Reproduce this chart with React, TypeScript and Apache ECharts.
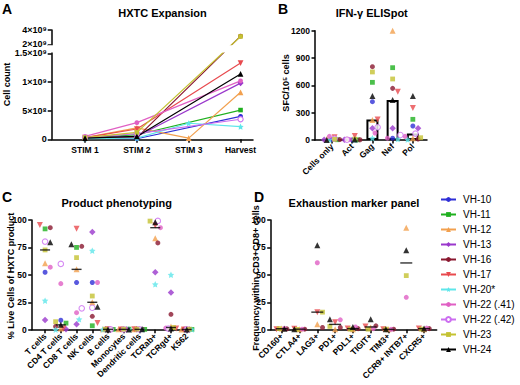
import React, { useEffect, useRef } from 'react';
import * as echarts from 'echarts';

const FONT = '"Liberation Sans", Arial, sans-serif';

// ---------- donors ----------
const donors = ['VH-10', 'VH-11', 'VH-12', 'VH-13', 'VH-16', 'VH-17', 'VH-20*', 'VH-22 (.41)', 'VH-22 (.42)', 'VH-23', 'VH-24'];
const donorColors = ['#2f2fd6', '#1fb01f', '#f2a04e', '#9a38cc', '#8a1830', '#e84a4e', '#5ee6ea', '#e060c4', '#cc6ef0', '#c4c232', '#000000'];
const donorSymbols = ['circle', 'rect', 'triangle', 'diamond', 'circle', 'triangle', 'star', 'circle', 'open', 'rect', 'triangle'];
const donorRotate = [0, 0, 0, 0, 0, 180, 0, 0, 0, 0, 0];

// ---------- A: HXTC expansion (cell count, x10^9) ----------
const stimLabels = ['STIM 1', 'STIM 2', 'STIM 3', 'Harvest'];
const expStim1 = [0.02, 0.02, 0.03, 0.02, 0.02, 0.03, 0.01, 0.05, 0.03, 0.03, 0.02];
const expStim2 = [0.01, 0.08, 0.2, 0.05, 0.03, 0.18, 0.02, 0.29, 0.1, 0.12, 0.05];
const expStim3 = [null, null, 0.02, null, null, null, 0.28, null, null, null, null];
const expHarvest = [0.4, 0.51, 0.82, 0.98, 3.15, 1.33, 0.22, 1.02, 0.35, 3.1, 1.14];
const expTicks = [0, 0.5, 1, 1.5, 2, 4];
const expTickLabels = ['0', '5×10⁸', '1×10⁹', '1.5×10⁹', '2×10⁹', '4×10⁹'];

// ---------- B: IFN-g ELISpot (SFC/10^5 cells) ----------
const ifnCats = ['Cells only', 'Act', 'Gag', 'Nef', 'Pol'];
const ifnCellsOnly = [5, 3, 10, 2, 5, 30, 2, 40, 15, 8, 0];
const ifnAct = [2, 2, 12, 2, 3, 45, 1, 5, 3, 10, 5];
const ifnGag = [421, 633, 220, 130, 805, 225, 20, 77, 140, 747, 483];
const ifnNef = [20, 794, 1200, 130, 567, 530, 10, 20, 55, 670, 439];
const ifnPol = [154, 227, 20, 130, 10, 351, 5, 40, 70, 25, 483];

// ---------- C: product phenotyping (%) ----------
const pheCats = ['T cells', 'CD4 T cells', 'CD8 T cells', 'NK cells', 'B cells', 'Monocytes', 'Dendritic cells', 'TCRab+', 'TCRgd+', 'K562'];
const pheT = [52.4, 91.9, 60.6, 8.8, 93, 95.5, 26.5, 57, 80.3, 72.7, 79.7];
const pheCD4 = [8.6, 6, 1, 0.5, 3, 1, 0, 42, 60, 7.3, 4.4];
const pheCD8 = [43, 75, 55, 5, 76, 92, 9.5, 15.5, 19.5, 65.7, 78];
const pheNK = [43, 3.6, 25, 89, 12.2, 6, 72, 43, 20, 30.7, 21];
const pheB = [0.5, 0.3, 0.5, 0.3, 0.2, 0.3, 0.2, 0.5, 0.3, 0.5, 0.2];
const pheMono = [0.3, 0.5, 0.3, 0.2, 0.5, 0.2, 0.3, 0.3, 0.2, 0.5, 0.2];
const pheDC = [0.2, 0.3, 0.5, 0.3, 0.4, 0.3, 0.2, 0.5, 0.3, 0.5, 0.3];
const pheTCRab = [null, null, 83.4, 52.4, 79.1, 95, 41.4, 93, 99.2, 99, 98];
const pheTCRgd = [null, null, 3, 33.8, 14, 1, 50, 1.5, 1, 2, 1];
const pheK562 = [0.2, 0.3, 0.2, 0.2, 0.5, 0.2, 0.2, 0.5, 0.3, 0.5, 0.2];

// ---------- D: exhaustion markers (%) ----------
const exhCats = ['CD160+', 'CTLA4+', 'LAG3+', 'PD1+', 'PDL1+', 'TIGIT+', 'TIM3+', 'CCR9+ INTB7+', 'CXCR5+'];
const exhCD160 = [null, null, 1, null, 0.8, 0.5, null, 1.2, null, 1, 0.8];
const exhCTLA4 = [null, null, 0.5, null, 0.5, 0.8, null, 0.5, null, 0.3, 0.5];
const exhLAG3 = [null, null, 5, null, 2, 16, null, 61, null, 16, 77];
const exhPD1 = [null, null, 0.5, null, 2, 6.7, null, 9, null, 3, 9.5];
const exhPDL1 = [null, null, 0.5, null, 1, 1, null, 2.5, null, 0.5, 2.5];
const exhTIGIT = [null, null, 2, null, 3.5, 3, null, 1, null, 0.5, 9.5];
const exhTIM3 = [null, null, 0.3, null, 0.5, 0.3, null, 0.3, null, 0.5, 0.3];
const exhCCR9 = [null, null, 93, null, null, null, null, 29.5, null, 49.3, 72.4];
const exhCXCR5 = [null, null, 0.5, null, 1, 1, null, 1.5, null, 0.5, 1];

// ---------- helpers ----------
const STAR = 'path://M0,-1L0.29,-0.4L0.95,-0.31L0.47,0.15L0.59,0.81L0,0.5L-0.59,0.81L-0.47,0.15L-0.95,-0.31L-0.29,-0.4Z';

// broken axis scale for panel A (display units = pixels of the grid)
const LOW_PX = 86;
const GAP_PX = 9;
const HIGH_PX = 14.3;
const brk = (v: number) =>
  v <= 1.5 ? (v / 1.5) * LOW_PX : v >= 2 ? LOW_PX + GAP_PX + ((v - 2) / 2) * HIGH_PX : LOW_PX + ((v - 1.5) / 0.5) * GAP_PX;

const median = (arr: (number | null)[]) => {
  const s = arr.filter((v) => v != null).map((v) => v as number).sort((a, b) => a - b);
  if (!s.length) return 0;
  const m = Math.floor(s.length / 2);
  return s.length % 2 ? s[m] : (s[m - 1] + s[m]) / 2;
};

function swarm(values: (number | null)[], pxY: number, pxX: number, size: number, maxOff: number) {
  const placed: [number, number][] = [];
  const offs = values.map(() => 0);
  const step = size * 0.5;
  const cands = [0];
  for (let s = step; s <= maxOff + 1e-6; s += step) cands.push(s, -s);
  values.forEach((v, i) => {
    if (v == null) return;
    const y = v * pxY;
    let best = 0;
    let bestD = -1;
    for (const c of cands) {
      let d = Infinity;
      for (const [px, py] of placed) d = Math.min(d, Math.hypot(px - c, py - y));
      if (d >= size) {
        best = c;
        break;
      }
      if (d > bestD) {
        bestD = d;
        best = c;
      }
    }
    placed.push([best, y]);
    offs[i] = best / pxX;
  });
  return offs;
}

const symFor = (i: number) => (donorSymbols[i] === 'star' ? STAR : donorSymbols[i] === 'open' ? 'circle' : donorSymbols[i]);
const sizeFor = (i: number) =>
  (({ circle: 5, rect: 4.8, triangle: 6, diamond: 6.5, star: 6.5, open: 5.5 } as any)[donorSymbols[i]]);
const itemFor = (i: number) =>
  donorSymbols[i] === 'open'
    ? { color: '#ffffff', borderColor: donorColors[i], borderWidth: 1.1 }
    : { color: donorColors[i] };

const axisLineStyle = { show: true, onZero: false, lineStyle: { color: '#000', width: 1.5 } };
const tickStyle = (len: number) => ({ show: true, length: len, lineStyle: { color: '#000', width: 1.5 } });
const labelStyle = { color: '#000', fontSize: 8.5, fontWeight: 'bold', fontFamily: FONT };

function catXAxis(gridIndex: number, cats: string[], min: number, max: number, rotate: number, margin: number) {
  const idx = cats.map((_, k) => k);
  return {
    type: 'value',
    gridIndex,
    min,
    max,
    axisLine: axisLineStyle,
    axisTick: { ...tickStyle(3.5), customValues: idx },
    axisLabel: {
      ...labelStyle,
      rotate,
      margin,
      customValues: idx,
      formatter: (v: number) => cats[Math.round(v)] ?? '',
    },
    splitLine: { show: false },
  };
}

function valYAxis(gridIndex: number, min: number, max: number, interval: number) {
  return {
    type: 'value',
    gridIndex,
    min,
    max,
    interval,
    axisLine: axisLineStyle,
    axisTick: tickStyle(3.5),
    axisLabel: { ...labelStyle, margin: 5, formatter: (v: number) => String(v) },
    splitLine: { show: false },
  };
}

function scatterPanel(arrays: (number | null)[][], gi: number, pxY: number, pxX: number, maxOff: number) {
  const offsets = arrays.map((arr) => swarm(arr, pxY, pxX, 5.2, maxOff));
  return donors.map((name, i) => ({
    type: 'scatter',
    name,
    xAxisIndex: gi,
    yAxisIndex: gi,
    data: arrays
      .map((arr, k) => (arr[i] == null ? null : [k + offsets[k][i], arr[i]]))
      .filter((d) => d != null),
    symbol: symFor(i),
    symbolSize: sizeFor(i),
    symbolRotate: donorRotate[i],
    itemStyle: itemFor(i),
    clip: false,
    z: 3,
  }));
}

function medianSeries(arrays: (number | null)[][], gi: number, width: number) {
  return {
    type: 'scatter',
    name: 'median',
    xAxisIndex: gi,
    yAxisIndex: gi,
    data: arrays.map((arr, k) => [k, median(arr)]),
    symbol: 'rect',
    symbolSize: [width, 1.4],
    itemStyle: { color: '#000' },
    clip: false,
    silent: true,
    z: 5,
  };
}

function txt(text: string, x: number, y: number, size: number, opts: any = {}) {
  return {
    type: 'text',
    x,
    y,
    rotation: opts.rotation || 0,
    z: 100,
    style: {
      text,
      x: 0,
      y: 0,
      fill: '#000',
      font: `bold ${size}px ${FONT}`,
      textAlign: opts.align || 'center',
      align: opts.align || 'center',
      textVerticalAlign: opts.valign || 'middle',
      verticalAlign: opts.valign || 'middle',
    },
  };
}

export default function App() {
  const ref = useRef<HTMLDivElement>(null);

  useEffect(() => {
    document.body.style.margin = '0';
    const chart = echarts.init(ref.current as HTMLDivElement, null, { renderer: 'svg' });

    // grid geometry (px)
    const gA = { left: 51.7, top: 30, width: 201.3, height: brk(4) };
    const gB = { left: 315, top: 30.7, width: 112, height: 109.3 };
    const gC = { left: 31.7, top: 220, width: 161.3, height: 109.7 };
    const gD = { left: 270.7, top: 220, width: 166, height: 109.7 };

    const stages = [expStim1, expStim2, expStim3, expHarvest];
    const ifnArrays = [ifnCellsOnly, ifnAct, ifnGag, ifnNef, ifnPol];
    const pheArrays = [pheT, pheCD4, pheCD8, pheNK, pheB, pheMono, pheDC, pheTCRab, pheTCRgd, pheK562];
    const exhArrays = [exhCD160, exhCTLA4, exhLAG3, exhPD1, exhPDL1, exhTIGIT, exhTIM3, exhCCR9, exhCXCR5];

    const bXmin = -0.84;
    const bXmax = 4.7;
    const cXmin = -0.85;
    const cXmax = 9.4;
    const dXmin = -0.62;
    const dXmax = 8.71;

    const lineSeries = donors.map((name, i) => ({
      type: 'line',
      name,
      xAxisIndex: 0,
      yAxisIndex: 0,
      data: stages.map((arr, k) => (arr[i] == null ? null : [k, brk(arr[i] as number)])).filter((d) => d != null),
      symbol: symFor(i),
      symbolSize: sizeFor(i) * 0.95,
      symbolRotate: donorRotate[i],
      itemStyle: itemFor(i),
      lineStyle: { color: donorColors[i], width: 1.2 },
      clip: false,
      z: 3,
    }));

    const option: any = {
      animation: false,
      backgroundColor: '#ffffff',
      textStyle: { fontFamily: FONT },
      grid: [
        { ...gA, containLabel: false, outerBoundsMode: 'none' },
        { ...gB, containLabel: false, outerBoundsMode: 'none' },
        { ...gC, containLabel: false, outerBoundsMode: 'none' },
        { ...gD, containLabel: false, outerBoundsMode: 'none' },
      ],
      legend: {
        orient: 'vertical',
        left: 440,
        top: 194.5,
        itemWidth: 15,
        itemHeight: 6,
        itemGap: 5,
        padding: 0,
        selectedMode: false,
        data: donors,
        textStyle: { fontSize: 10, fontWeight: 'normal', color: '#000', fontFamily: FONT, padding: [0, 0, 0, 2] },
      },
      xAxis: [
        {
          type: 'value',
          gridIndex: 0,
          min: -0.643,
          max: 3.24,
          axisLine: axisLineStyle,
          axisTick: { ...tickStyle(3.5), customValues: [0, 1, 2, 3] },
          axisLabel: {
            ...labelStyle,
            margin: 6,
            customValues: [0, 1, 2, 3],
            formatter: (v: number) => stimLabels[Math.round(v)] ?? '',
          },
          splitLine: { show: false },
        },
        catXAxis(1, ifnCats, bXmin, bXmax, 45, 5),
        catXAxis(2, pheCats, cXmin, cXmax, 45, 5),
        catXAxis(3, exhCats, dXmin, dXmax, 45, 5),
      ],
      yAxis: [
        {
          type: 'value',
          gridIndex: 0,
          min: 0,
          max: brk(4),
          axisLine: axisLineStyle,
          axisTick: { ...tickStyle(4), customValues: expTicks.map(brk) },
          axisLabel: {
            ...labelStyle,
            fontSize: 9,
            margin: 5,
            customValues: expTicks.map(brk),
            formatter: (v: number) => {
              const j = expTicks.findIndex((t) => Math.abs(brk(t) - v) < 0.05);
              return j >= 0 ? expTickLabels[j] : '';
            },
          },
          splitLine: { show: false },
        },
        valYAxis(1, 0, 1200, 300),
        valYAxis(2, 0, 100, 25),
        valYAxis(3, 0, 100, 25),
      ],
      series: [
        ...lineSeries,
        {
          type: 'bar',
          name: 'median',
          xAxisIndex: 1,
          yAxisIndex: 1,
          data: ifnArrays.map((arr, k) => [k, median(arr)]),
          barWidth: 12,
          itemStyle: { color: '#ffffff', borderColor: '#000', borderWidth: 2 },
          silent: true,
          z: 1,
        },
        ...scatterPanel(ifnArrays, 1, gB.height / 1200, gB.width / (bXmax - bXmin), 8),
        ...scatterPanel(pheArrays, 2, gC.height / 100, gC.width / (cXmax - cXmin), 6),
        medianSeries(pheArrays, 2, 10),
        ...scatterPanel(exhArrays, 3, gD.height / 100, gD.width / (dXmax - dXmin), 7),
        medianSeries(exhArrays, 3, 12),
      ],
      graphic: [
        // axis break for panel A
        { type: 'rect', z: 99, shape: { x: 48, y: 45.2, width: 212, height: 7.3 }, style: { fill: '#ffffff' } },
        txt('A', 2, 2, 14, { align: 'left', valign: 'top' }),
        txt('B', 278, 2, 14, { align: 'left', valign: 'top' }),
        txt('C', 2, 190, 14, { align: 'left', valign: 'top' }),
        txt('D', 254, 190, 14, { align: 'left', valign: 'top' }),
        txt('HXTC Expansion', 162.5, 12.7, 11),
        txt('IFN-γ ELISpot', 371.7, 12.7, 11),
        txt('Product phenotyping', 116.7, 202.7, 11),
        txt('Exhaustion marker panel', 354, 202.7, 11),
        txt('Cell count', 7, 84.5, 9, { rotation: Math.PI / 2 }),
        txt('SFC/10⁵ cells', 285.5, 83, 9, { rotation: Math.PI / 2 }),
        txt('% Live Cells of HXTC product', 11, 276, 9, { rotation: Math.PI / 2 }),
        txt('Frequency within CD3+CD8+ cells', 255.5, 278, 9, { rotation: Math.PI / 2 }),
      ],
    };

    chart.setOption(option);
    return () => chart.dispose();
  }, []);

  return <div ref={ref} style={{ width: 520, height: 385 }} />;
}
